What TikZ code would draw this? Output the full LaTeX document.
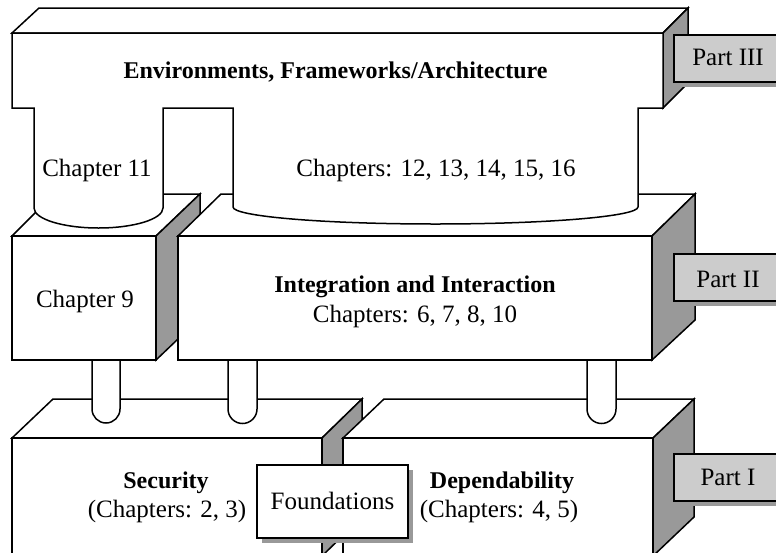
\documentclass[tikz,border=0pt]{standalone}
\usepackage{fontspec}
\setmainfont{Liberation Serif}
\definecolor{sidegray}{HTML}{999999}
\definecolor{labelgray}{HTML}{CCCCCC}
\definecolor{shadowgray}{HTML}{999999}
\begin{document}
\begin{tikzpicture}[x=1pt,y=-1pt,
  edge/.style={line width=1.5pt, line join=miter},
  face/.style={edge, fill=white},
  sideface/.style={edge, fill=sidegray},
  tag/.style={edge, fill=labelgray},
  txt/.style={inner sep=0pt, anchor=base, font=\fontsize{25}{29}\selectfont},
  btxt/.style={txt, font=\fontsize{24}{29}\selectfont\bfseries}]
\useasboundingbox (0,0) rectangle (776,552);
\clip (0,0) rectangle (776,552);

% ---- Part I: Security and Dependability blocks ----
\draw[face] (12,438) -- (53,399) -- (362,399) -- (322,438) -- cycle;
\draw[sideface] (322,438) -- (362,399) -- (362,517) -- (322,556) -- cycle;
\draw[face] (12,438) rectangle (322,560);
\draw[face] (343,438) -- (384,399) -- (694,399) -- (653,438) -- cycle;
\draw[sideface] (653,438) -- (694,399) -- (694,517) -- (653,556) -- cycle;
\draw[face] (343,438) rectangle (653,560);

% ---- pillars joining Part II to Part I ----
\foreach \xl/\xr in {92/120, 228/257, 587/616} {
  \pgfmathsetmacro{\xm}{(\xl+\xr)/2}
  \pgfmathsetmacro{\rr}{(\xr-\xl)/2}
  \draw[face] (\xl,358) -- (\xl,409)
    .. controls (\xl,409+0.55*\rr) and (\xm-0.55*\rr,409+\rr) .. (\xm,409+\rr)
    .. controls (\xm+0.55*\rr,409+\rr) and (\xr,409+0.55*\rr) .. (\xr,409)
    -- (\xr,358);
}

% ---- Part II: Chapter 9 and Integration blocks ----
\draw[face] (12,236) -- (54,194) -- (200,194) -- (156,236) -- cycle;
\draw[sideface] (156,236) -- (200,194) -- (200,318) -- (156,360) -- cycle;
\draw[face] (12,236) rectangle (156,360);
\draw[face] (178,236) -- (221,194) -- (695,194) -- (652,236) -- cycle;
\draw[sideface] (652,236) -- (695,194) -- (695,320) -- (652,360) -- cycle;
\draw[face] (178,236) rectangle (652,360);

% ---- Part III: Environments block with its two columns ----
\draw[face] (12,33) -- (39,8) -- (688,8) -- (663,33) -- cycle;
\draw[sideface] (663,33) -- (688,8) -- (688,83) -- (663,108) -- cycle;
\draw[face] (12,33) -- (663,33) -- (663,108) -- (638,108) -- (638,207)
  .. controls (638,216.4) and (547.3,224) .. (435.5,224)
  .. controls (323.7,224) and (233,216.4) .. (233,207)
  -- (233,108) -- (163,108) -- (163,208)
  .. controls (163,219) and (134.1,228) .. (98.5,228)
  .. controls (62.9,228) and (34,219) .. (34,208)
  -- (34,108) -- (12,108) -- cycle;

% ---- part tags ----
\fill[shadowgray] (679,40) rectangle (790,87);
\draw[tag] (674,35) rectangle (790,82);
\fill[shadowgray] (679,259) rectangle (790,306);
\draw[tag] (674,254) rectangle (790,301);
\fill[shadowgray] (679,459) rectangle (790,506);
\draw[tag] (674,454) rectangle (790,501);

% ---- Foundations box ----
\fill[shadowgray] (262,470) rectangle (413,543);
\draw[face] (257,465) rectangle (408,538);

% ---- texts ----
\node[btxt] (title) at (335.5,78) {Environments, Frameworks/Architecture};
\node[txt] (ch11) at (97,176) {Chapter 11};
\node[txt] (ch12) at (436,176) {Chapters: 12, 13, 14, 15, 16};
\node[txt] (ch9) at (85,307) {Chapter 9};
\node[btxt] (integ) at (415,292) {Integration and Interaction};
\node[txt] (ch6) at (415,322) {Chapters: 6, 7, 8, 10};
\node[btxt] (sec) at (166,488) {Security};
\node[txt] (sec2) at (167,517) {(Chapters: 2, 3)};
\node[txt] (found) at (332.5,509) {Foundations};
\node[btxt] (dep) at (502,488) {Dependability};
\node[txt] (dep2) at (499,517) {(Chapters: 4, 5)};
\node[txt] (p3) at (728,65) {Part III};
\node[txt] (p2) at (728,287) {Part II};
\node[txt] (p1) at (728,485) {Part I};
\end{tikzpicture}
\end{document}
